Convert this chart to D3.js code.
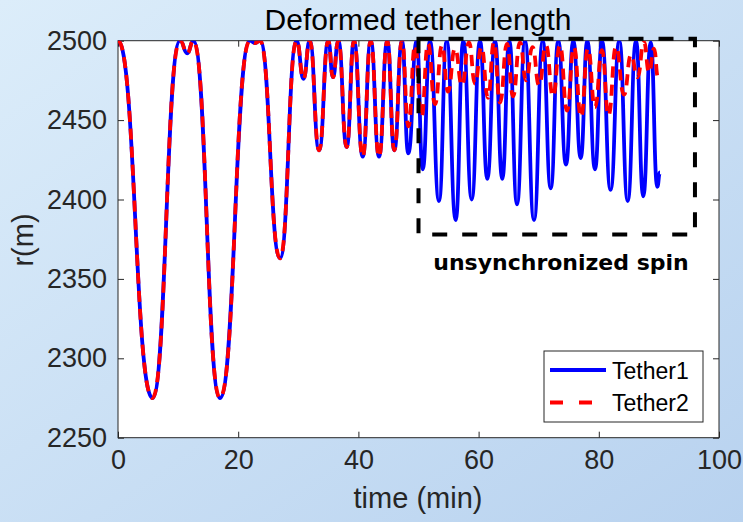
<!DOCTYPE html>
<html><head><meta charset="utf-8">
<script src="https://cdn.jsdelivr.net/npm/d3@7"></script>
<style>html,body{margin:0;padding:0;overflow:hidden}svg{display:block}</style>
</head><body>
<script>
// ---- data ----
const title = "Deformed tether length";
const xLabel = "time (min)";
const yLabel = "r(m)";
const xTicks = [0, 20, 40, 60, 80, 100];
const yTicks = [2250, 2300, 2350, 2400, 2450, 2500];
const seriesNames = ["Tether1", "Tether2"];
const annotationText = "unsynchronized spin";
const boxTime = [50, 96];
const boxR = [2378, 2501.3];

// extrema (time in min, r in m) for the common part
const sharedT = [0, 5.74, 10.32, 11.53, 12.53, 16.97, 21.96, 22.80, 23.63, 26.96, 29.73, 30.87, 31.90, 33.46, 34.99, 35.77, 36.66, 38.05, 39.27, 40.72, 42.05, 43.43, 44.81, 45.97, 47.25];
const sharedR = [2500, 2275, 2500, 2492, 2500, 2275, 2500, 2498.5, 2500, 2363, 2500, 2476, 2500, 2431, 2500, 2477, 2500, 2433, 2500, 2427, 2500, 2427, 2500, 2431, 2500];

// Tether1 after divergence
const t1T = [48.30, 49.70, 50.70, 51.91, 53.41, 54.69, 56.19, 57.45, 58.85, 60.23, 61.45, 62.73, 63.94, 65.11, 66.39, 67.72, 69.22, 70.67, 72.00, 73.26, 74.54, 75.76, 76.99, 78.09, 79.37, 80.53, 81.95, 83.41, 84.81, 86.19, 87.40, 88.64, 89.73, 90.18];
const t1R = [2429, 2500, 2419, 2500, 2399, 2500, 2387, 2500, 2400, 2500, 2413, 2500, 2413, 2500, 2397, 2500, 2387, 2500, 2407, 2500, 2422, 2500, 2426, 2500, 2419, 2500, 2406, 2500, 2399, 2500, 2402, 2499, 2408, 2417];

// Tether2 after divergence
const t2T = [48.33, 49.42, 50.50, 51.58, 52.75, 53.91, 54.91, 56.07, 57.24, 58.40, 59.40, 60.48, 61.56, 62.56, 63.56, 64.73, 65.72, 66.89, 67.89, 68.97, 70.05, 71.21, 72.38, 73.54, 74.71, 75.87, 77.04, 78.20, 79.37, 80.53, 81.61, 82.86, 84.19, 85.36, 86.44, 87.52, 88.36, 89.19, 89.85];
const t2R = [2446, 2497, 2452, 2498, 2460, 2497, 2468, 2495, 2472, 2499, 2473, 2496, 2464, 2499, 2461, 2498, 2465, 2499, 2475, 2496, 2472, 2497, 2465, 2497, 2456, 2496, 2452, 2495, 2458, 2494, 2453, 2496, 2466, 2491, 2477, 2499, 2480, 2495, 2477];

// ---- layout ----
const W = 743, H = 522;
const pLeft = 118, pRight = 719, pTop = 40.7, pBottom = 437.7;
const x = d3.scaleLinear().domain([0, 100]).range([pLeft, pRight]);
const y = d3.scaleLinear().domain([2250, 2500]).range([pBottom, pTop]);

const svg = d3.select("body").append("svg").attr("width", W).attr("height", H);
const defs = svg.append("defs");
const grad = defs.append("linearGradient").attr("id", "bg").attr("x1", "0").attr("y1", "0").attr("x2", "1").attr("y2", "1");
grad.append("stop").attr("offset", "0").attr("stop-color", "#dcedfa");
grad.append("stop").attr("offset", "1").attr("stop-color", "#b8d2ef");
svg.append("rect").attr("width", W).attr("height", H).attr("fill", "url(#bg)");

defs.append("clipPath").attr("id", "clip").append("rect")
  .attr("x", pLeft).attr("y", pTop).attr("width", pRight - pLeft).attr("height", pBottom - pTop);

svg.append("rect").attr("x", pLeft).attr("y", pTop).attr("width", pRight - pLeft).attr("height", pBottom - pTop)
  .attr("fill", "#ffffff");

const font = "Arial, 'Liberation Sans', Helvetica, sans-serif";
const axisColor = "#262626";

function styleAxis(g) {
  g.select(".domain").remove();
  g.selectAll(".tick line").attr("stroke", axisColor).attr("stroke-width", 1);
  g.selectAll(".tick text").attr("fill", axisColor).attr("font-family", font).attr("font-size", 27);
}

svg.append("g").attr("transform", `translate(0,${pBottom})`)
  .call(d3.axisBottom(x).tickValues(xTicks).tickFormat(d3.format("d")).tickSizeInner(-6).tickSizeOuter(0).tickPadding(12))
  .call(styleAxis);
svg.append("g").attr("transform", `translate(${pLeft},0)`)
  .call(d3.axisLeft(y).tickValues(yTicks).tickFormat(d3.format("d")).tickSizeInner(-6).tickSizeOuter(0).tickPadding(11))
  .call(styleAxis);
svg.append("g").attr("transform", `translate(0,${pTop})`)
  .call(d3.axisTop(x).tickValues(xTicks).tickSizeInner(-6).tickSizeOuter(0).tickFormat(""))
  .call(styleAxis);
svg.append("g").attr("transform", `translate(${pRight},0)`)
  .call(d3.axisRight(y).tickValues(yTicks).tickSizeInner(-6).tickSizeOuter(0).tickFormat(""))
  .call(styleAxis);

svg.append("rect").attr("x", pLeft).attr("y", pTop).attr("width", pRight - pLeft).attr("height", pBottom - pTop)
  .attr("fill", "none").attr("stroke", axisColor).attr("stroke-width", 1);

// ---- series ----
const pts = (T, R) => T.map((t, i) => [t, R[i]]);
const shared = pts(sharedT, sharedR);
const tether1 = shared.concat(pts(t1T, t1R));
const tether2 = shared.concat(pts(t2T, t2R));
const line = d3.line().x(d => x(d[0])).y(d => y(d[1])).curve(d3.curveBumpX);

const plot = svg.append("g").attr("clip-path", "url(#clip)");
plot.append("path").datum(tether1).attr("d", line).attr("fill", "none")
  .attr("stroke", "#0000ff").attr("stroke-width", 3.8).attr("stroke-linejoin", "round");
plot.append("path").datum(tether2).attr("d", line).attr("fill", "none")
  .attr("stroke", "#ff0000").attr("stroke-width", 3.8).attr("stroke-dasharray", "11,7");

// ---- dashed box ----
svg.append("rect")
  .attr("x", x(boxTime[0])).attr("y", y(boxR[1]))
  .attr("width", x(boxTime[1]) - x(boxTime[0])).attr("height", y(boxR[0]) - y(boxR[1]))
  .attr("fill", "none").attr("stroke", "#000").attr("stroke-width", 4).attr("stroke-dasharray", "15,15");

svg.append("text").attr("x", 561).attr("y", 270).attr("text-anchor", "middle")
  .attr("font-family", "'DejaVu Sans', Verdana, sans-serif").attr("font-weight", "bold").attr("font-size", 22)
  .attr("fill", "#000").text(annotationText);

// ---- texts ----
svg.append("text").attr("x", 418).attr("y", 30).attr("text-anchor", "middle")
  .attr("font-family", font).attr("font-size", 30).attr("fill", "#000").text(title);
svg.append("text").attr("x", 418).attr("y", 508).attr("text-anchor", "middle")
  .attr("font-family", font).attr("font-size", 29).attr("fill", axisColor).text(xLabel);
svg.append("text").attr("transform", "translate(33,240) rotate(-90)").attr("text-anchor", "middle")
  .attr("font-family", font).attr("font-size", 29).attr("fill", axisColor).text(yLabel);

// ---- legend ----
const lg = svg.append("g");
lg.append("rect").attr("x", 544).attr("y", 351).attr("width", 159).attr("height", 71)
  .attr("fill", "#fff").attr("stroke", axisColor).attr("stroke-width", 1);
const legendColors = ["#0000ff", "#ff0000"];
const legendDash = [null, "13,16"];
seriesNames.forEach((n, i) => {
  const ly = 370 + i * 32.5;
  lg.append("line").attr("x1", 550).attr("x2", 606).attr("y1", ly).attr("y2", ly)
    .attr("stroke", legendColors[i]).attr("stroke-width", 3.8).attr("stroke-dasharray", legendDash[i]);
  lg.append("text").attr("x", 612).attr("y", ly + 8.5).attr("font-family", font).attr("font-size", 23)
    .attr("fill", "#000").text(n);
});
</script>
</body></html>
